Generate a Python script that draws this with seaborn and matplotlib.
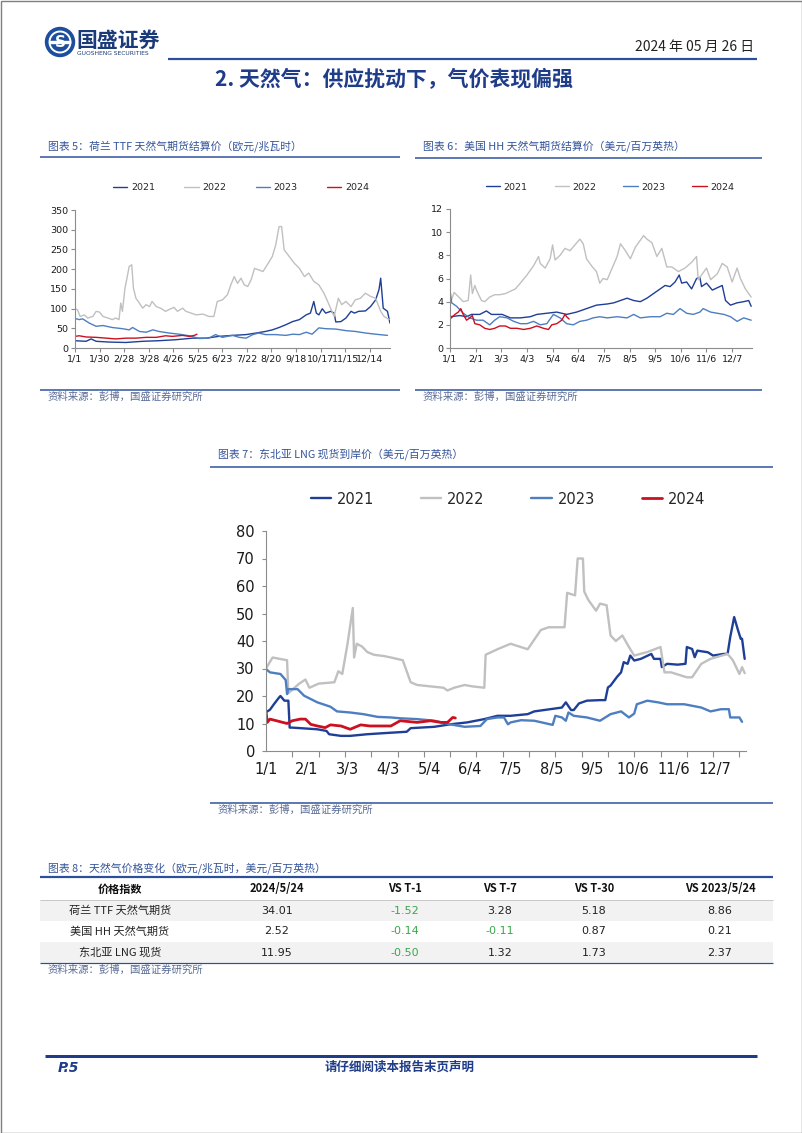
import matplotlib
matplotlib.use("Agg")
import matplotlib.pyplot as plt
import seaborn as sns
import pandas as pd
from matplotlib.patches import Circle, Rectangle

# ---------------- data (day of year, value) ----------------
years = ["2021", "2022", "2023", "2024"]

# TTF (EUR/MWh)
ttf_2021_day = [0, 13, 19, 25, 41, 60, 80, 99, 119, 139, 155, 170, 186, 202, 214, 225, 233, 241, 249, 257, 265, 273,
                278, 282, 285, 288, 292, 296, 302, 306, 308, 314, 320, 326, 330, 335, 343, 349, 355, 359, 361, 364, 369, 372]
ttf_2021 = [18.5, 17, 23, 17, 15, 14, 17, 18.5, 21, 25, 25, 29.5, 32, 34, 38, 42, 46, 52, 59, 67, 72, 84,
            88.5, 118, 88.5, 84, 99.5, 88.5, 93, 88.5, 66, 67, 76, 93, 88.5, 93, 94, 105, 122, 148, 177, 101, 93, 63]
ttf_2022_day = [0, 3, 6, 11, 15, 21, 25, 29, 33, 39, 44, 48, 52, 54, 56, 59, 61, 64, 67, 69, 72, 76, 80, 84, 88, 91,
                96, 101, 107, 113, 117, 121, 127, 131, 137, 143, 151, 158, 164, 168, 174, 180, 184, 188, 192, 196, 200,
                204, 208, 212, 217, 222, 227, 233, 237, 241, 244, 247, 253, 259, 265, 271, 276, 282, 288, 294, 300, 306,
                311, 315, 320, 326, 331, 337, 343, 349, 355, 361, 365, 371]
ttf_2022 = [99.5, 97, 80, 84, 76, 80, 93, 91, 80, 76, 72, 76, 72, 114, 93, 152, 173, 207, 211, 152, 126, 114, 101, 110,
            105, 118, 105, 101, 93, 99.5, 103, 93, 101, 93, 88.5, 84, 86, 80, 80, 118, 122, 135, 160, 181, 164, 177, 160,
            156, 173, 202, 198, 194, 211, 232, 261, 308, 308, 249, 232, 215, 202, 181, 190, 169, 160, 139, 110, 80,
            126, 110, 118, 105, 122, 126, 139, 131, 126, 93, 80, 72]
ttf_2023_day = [0, 5, 9, 17, 25, 33, 44, 56, 64, 68, 76, 84, 92, 99, 111, 123, 135, 147, 158, 166, 174, 186, 194, 202,
                210, 217, 225, 237, 249, 257, 265, 273, 280, 288, 296, 308, 320, 331, 343, 355, 369]
ttf_2023 = [75, 72, 74, 63, 55, 57, 52, 49, 46, 52, 42, 40, 46, 42, 38, 35, 31, 24, 25, 34, 27, 32, 27, 25, 34, 38, 34,
            34, 32, 35, 34, 40, 35, 51, 49, 48, 44, 42, 38, 35, 32]
ttf_2024_day = [0, 5, 13, 25, 37, 48, 60, 72, 84, 96, 107, 115, 127, 135, 141, 144]
ttf_2024 = [29.5, 31, 28, 27, 25, 23, 25, 25, 27, 27, 31, 29.5, 32, 29.5, 32, 35]
ttf_labels = ["1/1", "1/30", "2/28", "3/28", "4/26", "5/25", "6/23", "7/22", "8/20", "9/18", "10/17", "11/15", "12/14"]

# Henry Hub (USD/MMBtu)
hh_2021_day = [0, 12, 20, 26, 36, 44, 50, 56, 63, 73, 85, 97, 105, 117, 129, 141, 153, 165, 177, 190, 198, 206, 214,
               222, 230, 238, 246, 254, 260, 266, 272, 277, 280, 286, 292, 298, 302, 304, 310, 317, 323, 329, 333, 339,
               347, 355, 361, 364]
hh_2021 = [2.7, 2.8, 2.7, 2.9, 2.9, 3.2, 2.9, 2.9, 2.9, 2.6, 2.6, 2.7, 2.9, 3.0, 3.1, 2.9, 3.1, 3.4, 3.7, 3.8, 3.9, 4.1,
           4.3, 4.1, 4.0, 4.3, 4.7, 5.1, 5.4, 5.3, 5.7, 6.3, 5.6, 5.7, 5.1, 6.0, 6.1, 5.3, 5.6, 5.0, 5.2, 5.4, 4.1, 3.7,
           3.9, 4.0, 4.1, 3.6]
hh_2022_day = [0, 5, 12, 16, 22, 25, 27, 30, 32, 38, 42, 48, 54, 60, 67, 73, 79, 85, 93, 101, 107, 109, 115, 121, 124,
               127, 133, 139, 145, 151, 157, 161, 165, 171, 177, 181, 185, 190, 196, 202, 206, 212, 218, 224, 230, 234,
               238, 244, 250, 256, 262, 268, 276, 284, 292, 298, 300, 304, 310, 315, 323, 329, 335, 341, 347, 351, 357,
               361, 364]
hh_2022 = [3.8, 4.8, 4.3, 4.0, 4.1, 6.3, 4.7, 5.4, 5.0, 4.1, 4.0, 4.4, 4.6, 4.6, 4.7, 4.9, 5.1, 5.6, 6.3, 7.1, 7.9, 7.3,
           6.9, 7.7, 8.9, 7.6, 8.0, 8.6, 8.4, 8.9, 9.4, 9.0, 7.7, 7.1, 6.6, 5.6, 6.0, 5.9, 6.9, 7.9, 9.0, 8.4, 7.7, 8.7,
           9.3, 9.7, 9.4, 9.1, 7.9, 8.6, 7.0, 7.0, 6.6, 6.9, 7.4, 7.9, 5.9, 6.3, 6.9, 5.9, 6.4, 7.3, 7.0, 5.7, 6.9, 6.0,
           5.1, 4.7, 4.4]
hh_2023_day = [0, 2, 8, 16, 24, 32, 40, 48, 54, 60, 69, 77, 85, 93, 101, 109, 117, 125, 133, 141, 149, 157, 165, 173,
               181, 190, 202, 214, 222, 230, 242, 254, 262, 270, 278, 286, 294, 302, 306, 315, 323, 331, 339, 347, 355,
               364]
hh_2023 = [5.0, 3.9, 3.6, 3.0, 2.6, 2.4, 2.4, 2.0, 2.4, 2.7, 2.6, 2.3, 2.1, 2.1, 2.3, 2.0, 2.1, 2.9, 2.6, 2.1, 2.0, 2.3,
           2.4, 2.6, 2.7, 2.6, 2.7, 2.6, 2.9, 2.6, 2.7, 2.7, 3.0, 2.9, 3.4, 3.0, 2.9, 3.1, 3.4, 3.1, 3.0, 2.9, 2.7, 2.3,
           2.6, 2.4]
hh_2024_day = [0, 6, 10, 13, 16, 20, 24, 27, 30, 36, 42, 48, 54, 60, 67, 73, 81, 89, 97, 105, 113, 119, 123, 129, 135,
               139, 141, 144]
hh_2024 = [2.5, 2.9, 3.1, 3.4, 2.9, 2.4, 2.6, 2.8, 2.1, 2.0, 1.7, 1.6, 1.7, 1.9, 1.9, 1.7, 1.7, 1.6, 1.7, 1.9, 1.7, 1.6,
           2.0, 2.1, 2.4, 2.9, 2.7, 2.5]
hh_labels = ["1/1", "2/1", "3/3", "4/3", "5/4", "6/4", "7/5", "8/5", "9/5", "10/6", "11/6", "12/7"]

# Northeast Asia LNG (USD/MMBtu)
lng_2021_day = [0, 1, 3, 6, 10, 11, 14, 17, 18, 20, 39, 46, 48, 57, 64, 77, 90, 107, 110, 128, 140, 153, 166, 176, 186,
                199, 204, 216, 225, 228, 232, 234, 238, 244, 254, 258, 260, 262, 267, 270, 272, 275, 277, 280, 285, 293,
                295, 300, 301, 305, 313, 319, 320, 324, 326, 328, 336, 340, 348, 351, 353, 356, 359, 361, 362, 364]
lng_2021 = [14.4, 14.4, 15, 17, 19.5, 20, 18.3, 18.3, 8.5, 8.5, 7.9, 7.3, 6.1, 5.5, 5.5, 6.1, 6.5, 7, 8.3, 8.8, 9.7,
            10.4, 11.6, 12.8, 12.8, 13.4, 14.4, 15.2, 15.8, 17.7, 14.9, 14.9, 17.3, 18.3, 18.5, 18.5, 23.1, 23.8, 27,
            28.6, 32.3, 31.7, 34.7, 32.9, 33.5, 35.3, 33.5, 33.5, 30.5, 31.7, 31.4, 31.7, 37.8, 37.1, 34.1, 36.5, 35.9,
            34.7, 35.3, 35.3, 41.4, 48.7, 43.8, 40.8, 40.8, 33.5]
lng_2022_day = [0, 5, 16, 17, 25, 30, 33, 40, 52, 55, 58, 62, 66, 67, 69, 73, 77, 82, 90, 95, 104, 110, 115, 125, 135,
                138, 143, 151, 157, 166, 167, 176, 186, 199, 209, 215, 227, 229, 235, 237, 241, 242, 245, 251, 254, 259,
                262, 266, 271, 276, 280, 290, 300, 303, 308, 320, 324, 331, 338, 351, 355, 360, 362, 364]
lng_2022 = [30, 34, 33, 21, 24.4, 26, 23, 24.5, 25, 29, 28, 39, 52, 34, 39, 38, 36, 35, 34.5, 34, 33, 25, 24, 23.5, 23,
            22, 23, 24, 23.5, 23, 35, 37, 39, 37, 44, 45, 45, 57.5, 56.6, 70, 70, 58, 55, 51, 53.6, 53, 42, 40, 42, 37.8,
            34.7, 36, 37.8, 28.6, 28.6, 26.8, 26.8, 31.7, 33.5, 35.3, 33, 28, 30.5, 28.3]
lng_2023_day = [0, 3, 11, 15, 16, 17, 24, 29, 39, 49, 54, 64, 74, 85, 95, 102, 115, 128, 140, 151, 163, 168, 176, 181,
                184, 186, 194, 204, 218, 220, 225, 228, 230, 234, 244, 254, 262, 270, 276, 280, 282, 290, 298, 305, 318,
                331, 338, 346, 352, 353, 360, 362]
lng_2023 = [29.8, 28.6, 28, 25.8, 20.7, 22.5, 22.5, 20.1, 17.7, 16.1, 14.4, 14, 13.4, 12.4, 12.2, 11.9, 11.6, 11, 9.7,
            8.8, 9.1, 11.6, 12.2, 12.2, 9.7, 10.4, 11.2, 11, 9.5, 12.8, 12.2, 11, 14, 12.8, 12.2, 11, 13.4, 14.4, 12.2,
            13.6, 17, 18.3, 17.7, 17, 17, 15.8, 14.4, 15.2, 15.2, 12.2, 12.2, 10.6]
lng_2024_day = [0, 1, 3, 8, 16, 20, 26, 30, 34, 39, 45, 49, 57, 64, 72, 79, 90, 95, 102, 115, 125, 133, 138, 142, 144]
lng_2024 = [14.4, 10.4, 11.6, 11, 10, 11, 11.6, 11.6, 9.7, 9.1, 8.5, 9.5, 9.1, 7.9, 9.5, 9.1, 9.1, 9.1, 11, 10.4, 11,
            10.4, 10.4, 12.2, 12]
lng_labels = hh_labels

# table
table_cols = ["价格指数", "2024/5/24", "VS T-1", "VS T-7", "VS T-30", "VS 2023/5/24"]
table_names = ["荷兰 TTF 天然气期货", "美国 HH 天然气期货", "东北亚 LNG 现货"]
table_latest = [34.01, 2.52, 11.95]
table_t1 = [-1.52, -0.14, -0.50]
table_t7 = [3.28, -0.11, 1.32]
table_t30 = [5.18, 0.87, 1.73]
table_yoy = [8.86, 0.21, 2.37]

colors = {"2021": "#1f3f96", "2022": "#c0c0c0", "2023": "#4d7fc0", "2024": "#cc1020"}
BLUE = "#2c4f9c"
NAVY = "#1f3c88"
CJK = ["Noto Sans CJK SC", "DejaVu Sans"]

W, H = 802, 1133


def long_df(parts):
    frames = [pd.DataFrame({"day": d, "value": v, "year": y}) for y, (d, v) in zip(years, parts)]
    return pd.concat(frames, ignore_index=True)


def rect(l, t, r, b):
    return [l / W, 1 - b / H, (r - l) / W, (b - t) / H]


sns.set_theme(style="white")
plt.rcParams["font.family"] = ["DejaVu Sans", "Noto Sans CJK SC"]

fig = plt.figure(figsize=(W / 100, H / 100), dpi=100)

# overlay for page decoration, pixel coordinates
ov = fig.add_axes([0, 0, 1, 1])
ov.set_xlim(0, W)
ov.set_ylim(H, 0)
ov.axis("off")


def hline(y, x0, x1, px=1.5, color=BLUE):
    ov.plot([x0, x1], [y, y], color=color, lw=px * 0.72, solid_capstyle="butt")


def draw_chart(box, parts, xmax, ymax, ystep, labels, lstep, lw, fs, leg_xy, colsp, hlen,
               minor=None, red_lw=None, xpad=2, ypad=2):
    ax = fig.add_axes(rect(*box))
    ax.set_facecolor("none")
    df = long_df(parts)
    sns.lineplot(data=df, x="day", y="value", hue="year", hue_order=years, palette=colors,
                 estimator=None, sort=False, linewidth=lw, ax=ax)
    if red_lw:
        for ln in ax.lines:
            if ln.get_color() == colors["2024"]:
                ln.set_linewidth(red_lw)
    ax.set_xlim(0, xmax)
    ax.set_ylim(0, ymax)
    ax.set_yticks(range(0, ymax + 1, ystep))
    ax.set_xticks([i * lstep for i in range(len(labels))])
    ax.set_xticklabels(labels)
    ax.set_xlabel("")
    ax.set_ylabel("")
    sns.despine(ax=ax)
    for s in ("left", "bottom"):
        ax.spines[s].set_color("#8c8c8c")
        ax.spines[s].set_linewidth(0.8)
    ax.tick_params(axis="both", labelsize=fs, colors="#8c8c8c", labelcolor="#1a1a1a",
                   length=3, width=0.8, direction="out", left=True, bottom=True)
    ax.tick_params(axis="x", pad=xpad)
    ax.tick_params(axis="y", pad=ypad)
    if minor:
        ax.set_xticks(range(0, xmax, minor), minor=True)
        ax.tick_params(axis="x", which="major", length=0, pad=xpad)
        ax.tick_params(axis="x", which="minor", length=4, width=0.8, color="#8c8c8c", bottom=True)
    sns.move_legend(ax, "center", bbox_to_anchor=(leg_xy[0] / W, 1 - leg_xy[1] / H),
                    bbox_transform=fig.transFigure, ncol=4, frameon=False, title=None,
                    fontsize=fs, columnspacing=colsp, handlelength=hlen, handletextpad=0.4)
    for h in ax.get_legend().get_lines():
        h.set_linewidth(red_lw if (red_lw and h.get_color() == colors["2024"]) else lw)
    return ax


# chart 5: TTF
draw_chart((75, 210, 390, 348),
           [(ttf_2021_day, ttf_2021), (ttf_2022_day, ttf_2022), (ttf_2023_day, ttf_2023), (ttf_2024_day, ttf_2024)],
           372, 350, 50, ttf_labels, 29, 1.0, 6.8, (241, 188), 3.1, 1.5)

# chart 6: HH
draw_chart((450, 209, 752, 348),
           [(hh_2021_day, hh_2021), (hh_2022_day, hh_2022), (hh_2023_day, hh_2023), (hh_2024_day, hh_2024)],
           365, 12, 2, hh_labels, 31, 1.0, 6.8, (610, 187), 2.85, 1.5)

# chart 7: LNG
draw_chart((266, 531, 746, 751),
           [(lng_2021_day, lng_2021), (lng_2022_day, lng_2022), (lng_2023_day, lng_2023), (lng_2024_day, lng_2024)],
           365, 80, 10, lng_labels, 31, 1.7, 10.5, (508, 499), 3.2, 1.4, minor=20, red_lw=2.0, xpad=8, ypad=5)

# ---------------- header ----------------
ov.add_patch(Circle((60, 42), 14.5, color="#1d4e9e"))
ov.add_patch(Circle((60, 42), 10.5, fill=False, ec="white", lw=1.4))
ov.text(60, 42.5, "S", color="white", fontsize=11, fontweight="bold", ha="center", va="center")
ov.add_patch(Rectangle((50, 41), 20, 2.2, color="white"))
ov.text(76, 40, "国盛证券", family=CJK, fontsize=15, fontweight="bold", color="#1b3a7a", va="center", ha="left")
ov.text(77, 53.5, "GUOSHENG SECURITIES", fontsize=4.3, color="#1b3a7a", va="center", ha="left")
ov.text(754, 47, "2024 年 05 月 26 日", family=CJK, fontsize=10, color="#222222", ha="right", va="center")
hline(59, 168, 757, px=2.2, color=BLUE)
ov.text(394, 80, "2. 天然气：供应扰动下，气价表现偏强", family=CJK, fontsize=15, fontweight="bold",
        color=NAVY, ha="center", va="center")

# ---------------- captions and sources ----------------
cap_color = "#34549a"
src_color = "#5a6c96"
ov.text(48, 146, "图表 5：荷兰 TTF 天然气期货结算价（欧元/兆瓦时）", family=CJK, fontsize=7.8, color=cap_color, va="center")
hline(157, 40, 400)
hline(390, 40, 400)
ov.text(48, 397, "资料来源：彭博，国盛证券研究所", family=CJK, fontsize=7.5, color=src_color, va="center")

ov.text(423, 146, "图表 6：美国 HH 天然气期货结算价（美元/百万英热）", family=CJK, fontsize=7.8, color=cap_color, va="center")
hline(158, 415, 762)
hline(390, 415, 762)
ov.text(423, 397, "资料来源：彭博，国盛证券研究所", family=CJK, fontsize=7.5, color=src_color, va="center")

ov.text(218, 454, "图表 7：东北亚 LNG 现货到岸价（美元/百万英热）", family=CJK, fontsize=7.8, color=cap_color, va="center")
hline(467, 210, 773)
hline(803, 210, 773)
ov.text(218, 810, "资料来源：彭博，国盛证券研究所", family=CJK, fontsize=7.5, color=src_color, va="center")

# ---------------- table ----------------
ov.text(48, 868, "图表 8：天然气价格变化（欧元/兆瓦时，美元/百万英热）", family=CJK, fontsize=7.8, color=cap_color,
        va="center")
col_x = [120, 277, 405, 500, 594, 720]
row_top = [900, 921, 942]
row_h = 21
for i, top in enumerate(row_top):
    if i % 2 == 0:
        ov.add_patch(Rectangle((40, top), 733, row_h, color="#f2f2f2", lw=0))
hline(877, 40, 773, px=2.2)
hline(899.5, 40, 773, px=1.0, color="#c8c8c8")
hline(963, 40, 773, px=1.2)
for x, c in zip(col_x, table_cols):
    ov.text(x, 889, c, family=CJK, fontsize=8, fontweight="bold", color="#111111", ha="center", va="center")
green = "#3aa84a"
for i, name in enumerate(table_names):
    y = row_top[i] + row_h / 2
    ov.text(col_x[0], y, name, family=CJK, fontsize=8, color="#222222", ha="center", va="center")
    vals = [table_latest[i], table_t1[i], table_t7[i], table_t30[i], table_yoy[i]]
    for x, v in zip(col_x[1:], vals):
        ov.text(x, y, f"{v:.2f}", fontsize=8, color=green if v < 0 else "#222222", ha="center", va="center",
                family=["Liberation Sans Narrow", "DejaVu Sans"])
ov.text(48, 970, "资料来源：彭博，国盛证券研究所", family=CJK, fontsize=7.5, color=src_color, va="center")

# ---------------- footer ----------------
hline(1056, 45, 757, px=3, color=NAVY)
ov.text(58, 1068, "P.5", fontsize=10, fontweight="bold", fontstyle="italic", color=NAVY, va="center")
ov.text(400, 1067, "请仔细阅读本报告末页声明", family=CJK, fontsize=9, fontweight="bold", color=NAVY,
        ha="center", va="center")

# page frame
ov.add_patch(Rectangle((0.5, 0.5), W - 1, H - 1, fill=False, ec="#7f7f7f", lw=1))

fig.savefig("out.png", dpi=100)
